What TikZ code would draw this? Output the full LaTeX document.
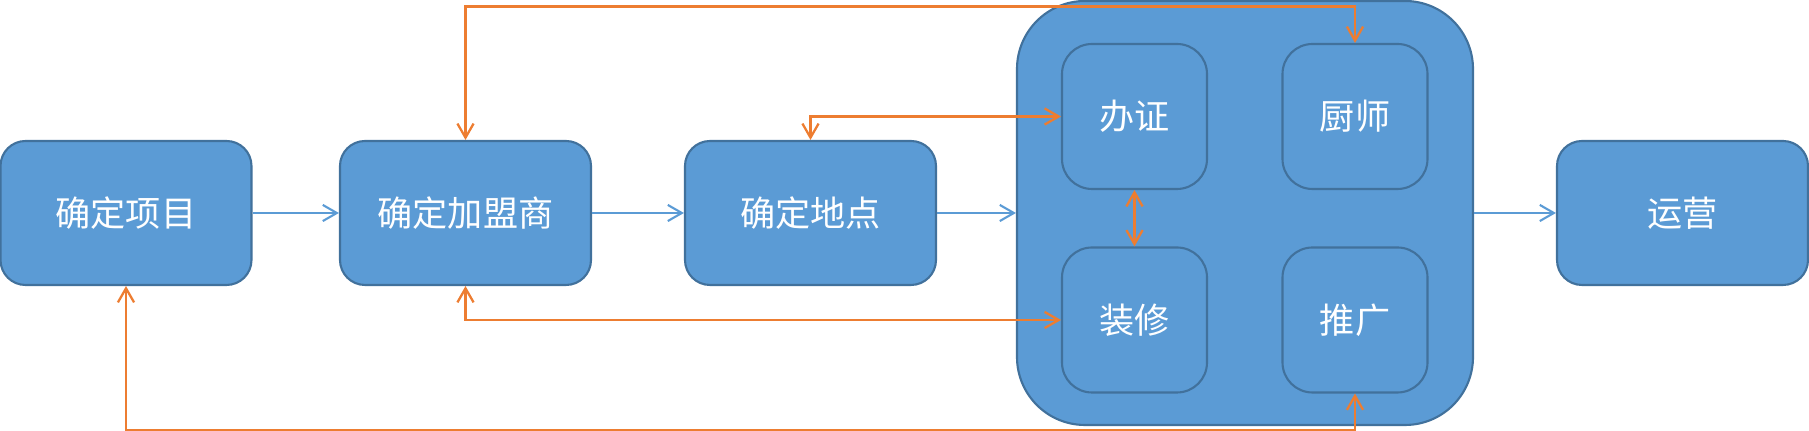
\documentclass[tikz,border=0pt]{standalone}
\usepackage{fontspec}
\newfontfamily\cjk{Noto Sans CJK SC}
\usetikzlibrary{arrows.meta}
\definecolor{boxblue}{HTML}{5B9BD5}
\definecolor{boxline}{HTML}{41719C}
\definecolor{linkorange}{HTML}{ED7D31}

\begin{document}
\begin{tikzpicture}[
            stage/.style={rectangle, rounded corners=0.25cm, draw=boxline, line width=0.6pt, fill=boxblue, minimum width=2.51cm, minimum height=1.44cm, text=white, font=\cjk\fontsize{10}{12}\selectfont},
            task/.style={stage, rounded corners=0.3cm, minimum width=1.45cm, minimum height=1.45cm},
            group/.style={rectangle, rounded corners=0.68cm, draw=boxline, line width=0.6pt, fill=boxblue, minimum width=4.56cm, minimum height=4.24cm},
            flow/.style={-{Straight Barb[length=4pt,width=4.6pt]}, boxblue, line width=0.6pt},
            link/.style={{Straight Barb[length=4pt,width=4.6pt]}-{Straight Barb[length=4pt,width=4.6pt]}, linkorange, line width=0.65pt}
        ]
            \useasboundingbox (0, 0) rectangle (18.09, 4.31);

            % Main steps
            \node[stage] (xiangmu) at (1.26, 2.18) {确定项目};
            \node[stage] (jiameng) at (4.655, 2.18) {确定加盟商};
            \node[stage] (didian) at (8.105, 2.18) {确定地点};
            \node[stage] (yunying) at (16.825, 2.18) {运营};

            % Preparation group
            \node[group] (prep) at (12.45, 2.18) {};
            \node[task] (banzheng) at (11.345, 3.145) {办证};
            \node[task] (chushi) at (13.55, 3.145) {厨师};
            \node[task] (zhuangxiu) at (11.345, 1.11) {装修};
            \node[task] (tuiguang) at (13.55, 1.11) {推广};

            % Flow
            \draw[flow] (xiangmu) -- (jiameng);
            \draw[flow] (jiameng) -- (didian);
            \draw[flow] (didian) -- (prep);
            \draw[flow] (prep) -- (yunying);

            % Links
            \draw[link] (jiameng.north) -- ++(0, 1.335) -| (chushi.north);
            \draw[link] (didian.north) |- (banzheng.west);
            \draw[link] (banzheng.south) -- (zhuangxiu.north);
            \draw[link] (jiameng.south) |- (zhuangxiu.west);
            \draw[link] (xiangmu.south) -- ++(0, -1.44) -| (tuiguang.south);
        \end{tikzpicture}
\end{document}
